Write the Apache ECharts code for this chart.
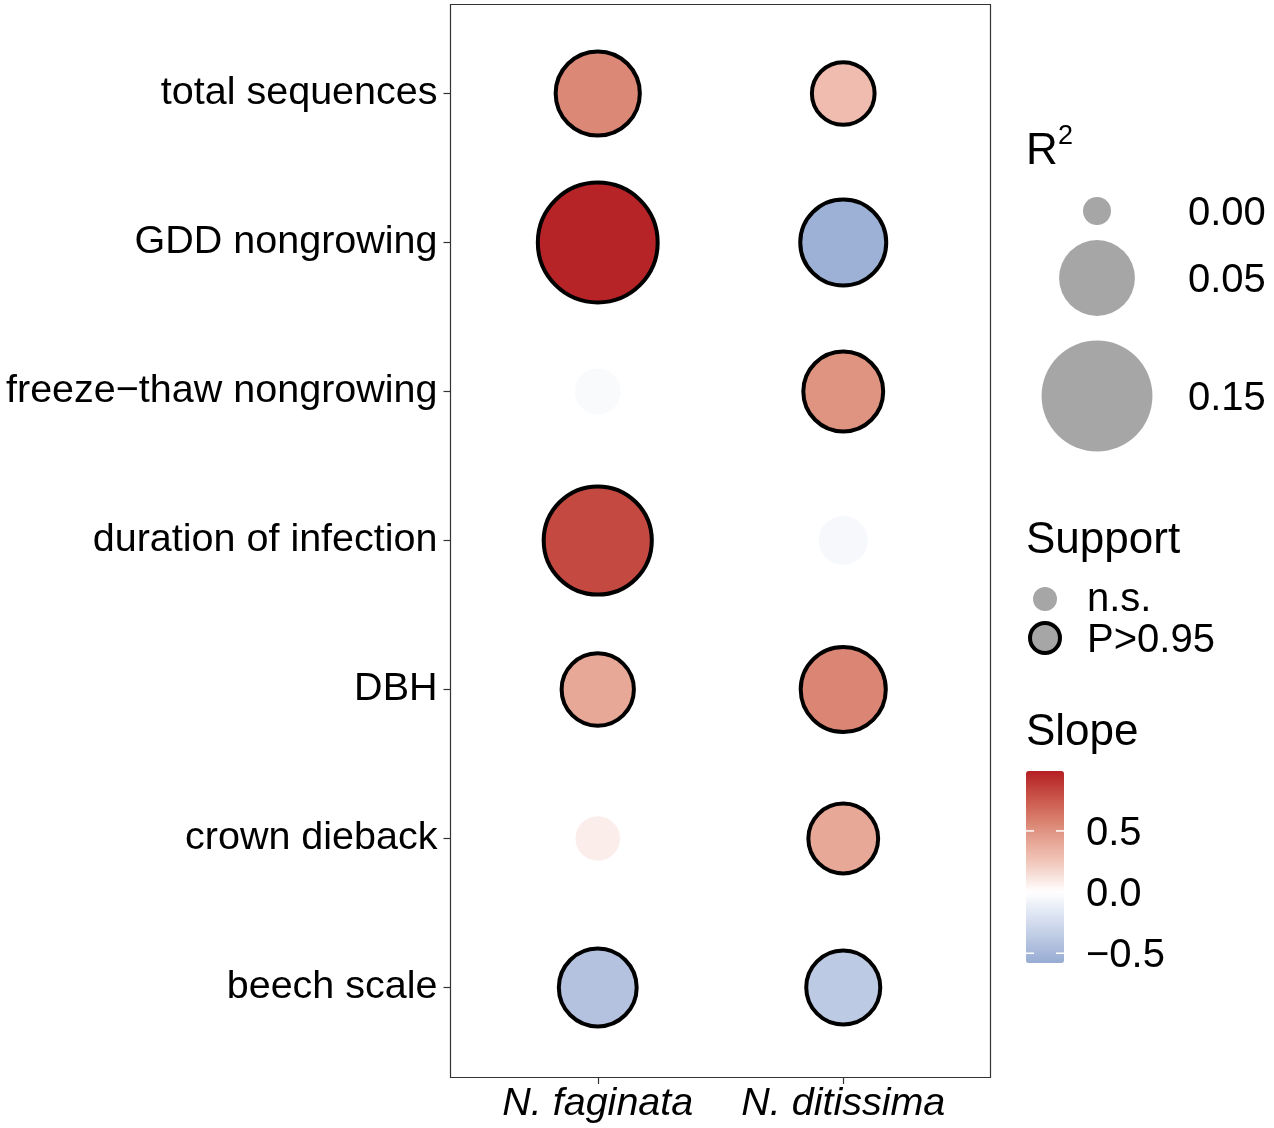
<!DOCTYPE html>
<html><head><meta charset="utf-8">
<script src="https://cdn.jsdelivr.net/npm/echarts@6/dist/echarts.min.js"></script>
<style>html,body{margin:0;padding:0;background:#fff}#c{width:1274px;height:1128px}</style>
</head><body><div id="c"></div><script>
// ---- data ----
const rows = ['total sequences', 'GDD nongrowing', 'freeze\u2212thaw nongrowing', 'duration of infection', 'DBH', 'crown dieback', 'beech scale'];
const species = ['N. faginata', 'N. ditissima'];
const r2Faginata  = [0.055, 0.161, 0.007, 0.120, 0.032, 0.006, 0.042];
const r2Ditissima = [0.018, 0.059, 0.046, 0.0096, 0.057, 0.028, 0.035];
const slopeFaginata  = [0.55, 0.97, -0.04, 0.82, 0.40, 0.08, -0.42];
const slopeDitissima = [0.30, -0.55, 0.50, -0.05, 0.56, 0.40, -0.37];
const supportFaginata  = [1, 1, 0, 1, 1, 0, 1];
const supportDitissima = [1, 1, 1, 0, 1, 1, 1];
const r2Breaks = [0, 0.05, 0.15];
const r2BreakLabels = ['0.00', '0.05', '0.15'];
const slopeBreaks = [0.5, 0, -0.5];
const slopeBreakLabels = ['0.5', '0.0', '\u22120.5'];
const supportLabels = ['n.s.', 'P>0.95'];
const slopeLimits = [-0.58, 0.99];

// ---- style ----
const FONT = '"Liberation Sans", Arial, Helvetica, sans-serif';
const colorStops = [[-0.58,[151,172,211]],[-0.25,[210,219,237]],[0,[255,255,255]],[0.25,[242,198,186]],[0.5,[224,148,130]],[0.75,[203,90,76]],[0.99,[181,31,37]]];
function slopeColor(v){
  if (v <= colorStops[0][0]) return colorStops[0][1];
  for (let i = 1; i < colorStops.length; i++) {
    if (v <= colorStops[i][0]) {
      const a = colorStops[i-1], b = colorStops[i];
      const t = (v - a[0]) / (b[0] - a[0]);
      return a[1].map((c, k) => Math.round(c + (b[1][k] - c) * t));
    }
  }
  return colorStops[colorStops.length-1][1];
}
function rgb(c){ return 'rgb(' + c.join(',') + ')'; }
const paletteSamples = [];
for (let i = 0; i <= 40; i++) {
  paletteSamples.push(rgb(slopeColor(slopeLimits[0] + (slopeLimits[1]-slopeLimits[0]) * i / 40)));
}
function baseRadius(r2){ return 14 + 107 * Math.sqrt(r2); }
const BORDER = 4;

const seriesData = [];
[[r2Faginata, slopeFaginata, supportFaginata], [r2Ditissima, slopeDitissima, supportDitissima]].forEach((arr, i) => {
  rows.forEach((row, j) => {
    seriesData.push({
      value: [species[i], row, arr[0][j], arr[1][j], arr[2][j]],
      itemStyle: { borderColor: '#000', borderWidth: arr[2][j] ? BORDER : 0 }
    });
  });
});

// legend geometry
const cbTop = 771, cbLeft = 1026, cbW = 38, cbH = 192;
function cbY(v){ return cbTop + (slopeLimits[1] - v) / (slopeLimits[1] - slopeLimits[0]) * cbH; }
const graphics = [];
// panel border
graphics.push({ type: 'rect', shape: { x: 450.5, y: 4.5, width: 540, height: 1073 }, style: { fill: 'none', stroke: '#333', lineWidth: 1.2 }, z: 10 });
// R^2 title
graphics.push({ type: 'text', x: 1026, y: 152, style: { text: 'R', font: '44px ' + FONT, fill: '#000', verticalAlign: 'middle' } });
graphics.push({ type: 'text', x: 1058, y: 137, style: { text: '2', font: '27px ' + FONT, fill: '#000', verticalAlign: 'middle' } });
const r2LegendY = [211, 278, 396];
r2Breaks.forEach((b, i) => {
  graphics.push({ type: 'circle', shape: { cx: 1097, cy: r2LegendY[i], r: baseRadius(b) }, style: { fill: '#A6A6A6' } });
  graphics.push({ type: 'text', x: 1188, y: r2LegendY[i] + 3, style: { text: r2BreakLabels[i], font: '40px ' + FONT, fill: '#000', verticalAlign: 'middle' } });
});
// Support
graphics.push({ type: 'text', x: 1026, y: 541, style: { text: 'Support', font: '44px ' + FONT, fill: '#000', verticalAlign: 'middle' } });
graphics.push({ type: 'circle', shape: { cx: 1045, cy: 599, r: 12 }, style: { fill: '#A6A6A6' } });
graphics.push({ type: 'circle', shape: { cx: 1045, cy: 638, r: 15 }, style: { fill: '#A6A6A6', stroke: '#000', lineWidth: BORDER } });
graphics.push({ type: 'text', x: 1087, y: 600, style: { text: supportLabels[0], font: '40px ' + FONT, fill: '#000', verticalAlign: 'middle' } });
graphics.push({ type: 'text', x: 1087, y: 641, style: { text: supportLabels[1], font: '40px ' + FONT, fill: '#000', verticalAlign: 'middle' } });
// Slope
graphics.push({ type: 'text', x: 1026, y: 733, style: { text: 'Slope', font: '44px ' + FONT, fill: '#000', verticalAlign: 'middle' } });
slopeBreaks.forEach((b, i) => {
  const y = cbY(b);
  graphics.push({ type: 'line', shape: { x1: cbLeft, y1: y, x2: cbLeft + 8, y2: y }, style: { stroke: '#fff', lineWidth: 1.5 }, z: 20 });
  graphics.push({ type: 'line', shape: { x1: cbLeft + cbW - 8, y1: y, x2: cbLeft + cbW, y2: y }, style: { stroke: '#fff', lineWidth: 1.5 }, z: 20 });
  graphics.push({ type: 'text', x: 1086, y: y + 3, style: { text: slopeBreakLabels[i], font: '40px ' + FONT, fill: '#000', verticalAlign: 'middle' } });
});

const chart = echarts.init(document.getElementById('c'), null, { renderer: 'canvas' });
chart.setOption({
  animation: false,
  backgroundColor: '#fff',
  grid: { left: 475, top: 19, width: 491, height: 1043 },
  xAxis: {
    type: 'category', data: species, offset: 15,
    axisLine: { show: false },
    axisTick: { show: true, alignWithLabel: true, length: 7, lineStyle: { color: '#333', width: 1.2 } },
    axisLabel: { interval: 0, hideOverlap: false, fontSize: 39.5, fontStyle: 'italic', color: '#000', margin: 7, fontFamily: FONT },
    splitLine: { show: false }
  },
  yAxis: {
    type: 'category', data: rows, inverse: true, offset: 24.5,
    axisLine: { show: false },
    axisTick: { show: true, alignWithLabel: true, length: 7, lineStyle: { color: '#333', width: 1.2 } },
    axisLabel: { interval: 0, hideOverlap: false, fontSize: 39.5, color: '#000', margin: 13, fontFamily: FONT, padding: [5, 0, 0, 0] },
    splitLine: { show: false }
  },
  visualMap: {
    type: 'continuous', min: slopeLimits[0], max: slopeLimits[1], dimension: 3, seriesIndex: 0,
    inRange: { color: paletteSamples },
    left: cbLeft, top: cbTop, itemWidth: cbW, itemHeight: cbH, padding: 0,
    calculable: false, hoverLink: false, text: null, showLabel: false
  },
  series: [{
    type: 'scatter',
    data: seriesData,
    symbol: 'circle',
    symbolSize: function (v) { const b = baseRadius(v[2]); return 2 * (v[4] ? b + BORDER * 0.75 : b); },
    itemStyle: { opacity: 1 },
    emphasis: { disabled: true }
  }],
  graphic: graphics
});
</script></body></html>
